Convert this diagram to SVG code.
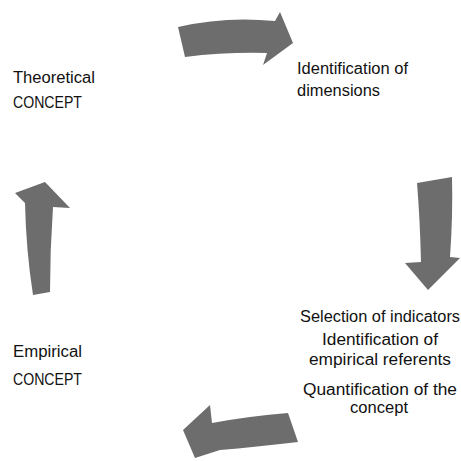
<svg xmlns="http://www.w3.org/2000/svg" width="461" height="461" viewBox="0 0 461 461">
<style>
.lbl{font-family:"Liberation Sans",Arial,sans-serif;font-size:16px;fill:#111}
.mid{text-anchor:middle}
.arr{fill:#6d6d6d;stroke:none}
</style>
<rect width="461" height="461" fill="#ffffff"/>
<g id="connectors">
<path class="arr" d="M178,27 Q225,16 275,21 L280,12 L293,43 L263,65 L267,53 Q225,52 185,57 Z"/>
<path class="arr" d="M417,183 L452,177 Q453,215 450,257 L460,258 L428,290 L405,263 L421,262 Q420,220 417,183 Z"/>
<path class="arr" d="M288,413 Q250,416 212,423 L210,405 L183,430 L195,458 L220,450 Q255,447 298,442 Z"/>
<path class="arr" d="M45,182 L70,208 L53,207 Q50,250 50,292 L33,295 Q26,250 25,203 L15,193 Z"/>
</g>
<g id="theoretical">
<text class="lbl" x="13" y="83" textLength="82" lengthAdjust="spacingAndGlyphs">Theoretical</text>
<text class="lbl" x="13" y="108" textLength="69" lengthAdjust="spacingAndGlyphs">CONCEPT</text>
</g>
<g id="dimensions">
<text class="lbl" x="297" y="74" textLength="111" lengthAdjust="spacingAndGlyphs">Identification of</text>
<text class="lbl" x="297" y="96" textLength="83" lengthAdjust="spacingAndGlyphs">dimensions</text>
</g>
<g id="indicators">
<text class="lbl mid" x="380" y="322" textLength="160" lengthAdjust="spacingAndGlyphs">Selection of indicators</text>
<text class="lbl mid" x="380" y="345" textLength="116" lengthAdjust="spacingAndGlyphs">Identification of</text>
<text class="lbl mid" x="380" y="365" textLength="142" lengthAdjust="spacingAndGlyphs">empirical referents</text>
<text class="lbl mid" x="380" y="395" textLength="154" lengthAdjust="spacingAndGlyphs">Quantification of the</text>
<text class="lbl mid" x="379" y="413" textLength="58" lengthAdjust="spacingAndGlyphs">concept</text>
</g>
<g id="empirical">
<text class="lbl" x="13" y="357" textLength="69" lengthAdjust="spacingAndGlyphs">Empirical</text>
<text class="lbl" x="13" y="385" textLength="69" lengthAdjust="spacingAndGlyphs">CONCEPT</text>
</g>
</svg>
